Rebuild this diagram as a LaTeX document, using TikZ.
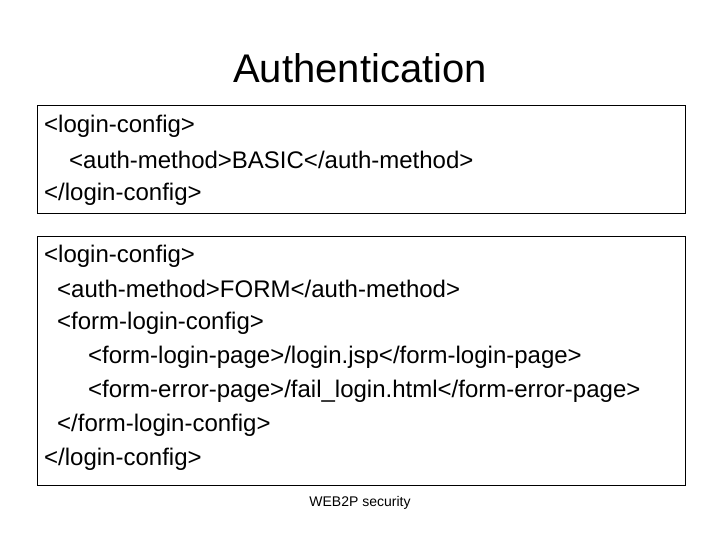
\documentclass[tikz,border=0pt]{standalone}
\usepackage{fontspec}
\setmainfont{Liberation Sans}
\begin{document}
\begin{tikzpicture}[x=1pt,y=-1pt,
  ln/.style={anchor=west,inner sep=0pt,font=\fontsize{24}{24}\selectfont},
  box/.style={draw=black,line width=0.8pt}]
\useasboundingbox (0,0) rectangle (720,540);
\node[inner sep=0pt,font=\fontsize{40}{40}\selectfont] (title) at (360,68) {Authentication};
\draw[box] (37,105) rectangle (685,213);
\node[ln] (a1) at (44,126) {<login-config>};
\node[ln] (a2) at (69,160) {<auth-method>BASIC</auth-method>};
\node[ln] (a3) at (44,194) {</login-config>};
\draw[box] (37,236) rectangle (685,485);
\node[ln] (b1) at (44,256) {<login-config>};
\node[ln] (b2) at (57,289) {<auth-method>FORM</auth-method>};
\node[ln] (b3) at (57,323) {<form-login-config>};
\node[ln] (b4) at (88,357) {<form-login-page>/login.jsp</form-login-page>};
\node[ln] (b5) at (88,391) {<form-error-page>/fail\_login.html</form-error-page>};
\node[ln] (b6) at (57,425) {</form-login-config>};
\node[ln] (b7) at (44,459) {</login-config>};
\node[inner sep=0pt,font=\fontsize{14}{14}\selectfont] (foot) at (360,503) {WEB2P security};
\end{tikzpicture}
\end{document}
